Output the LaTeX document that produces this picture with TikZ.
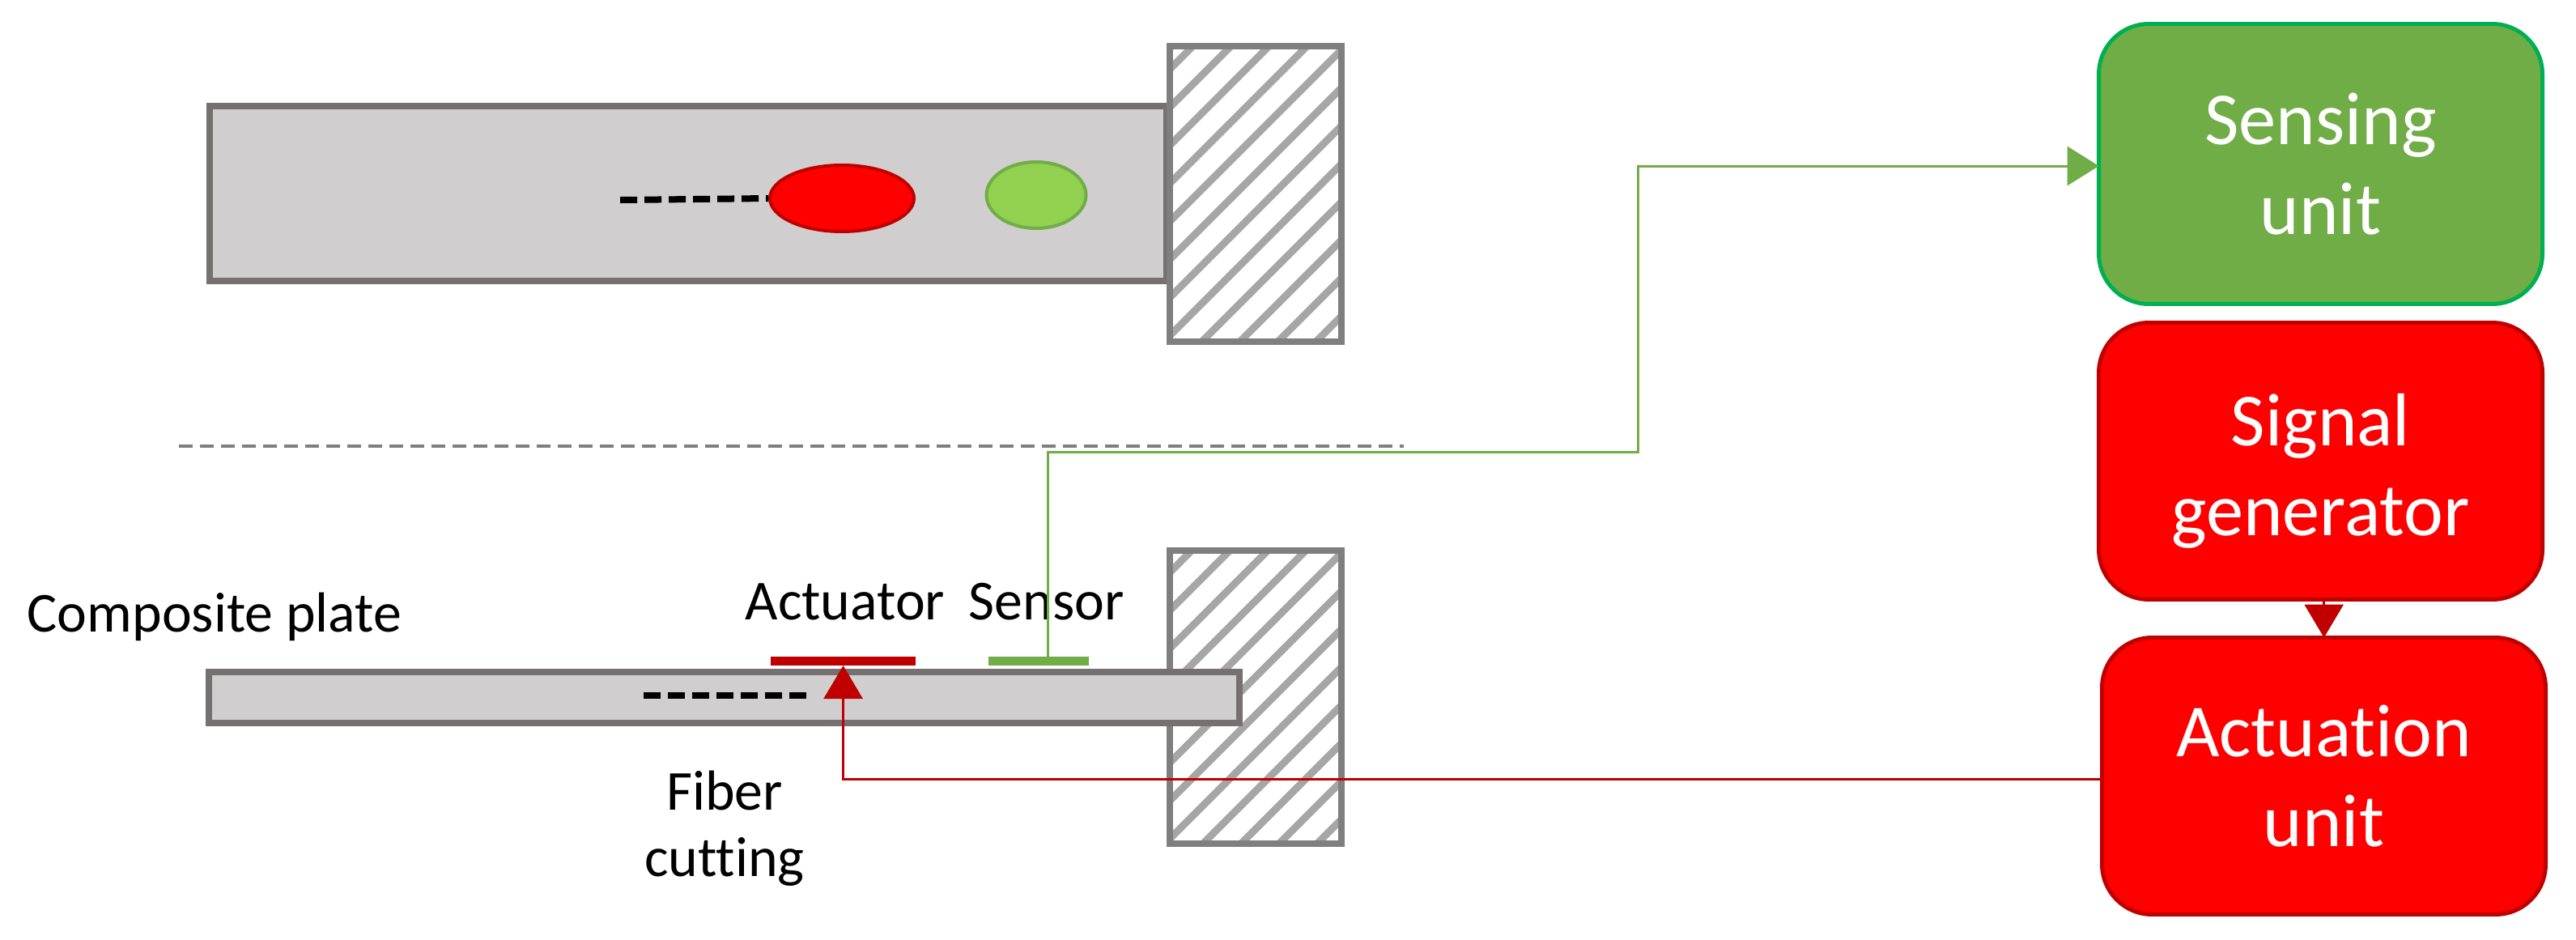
\documentclass[tikz,border=0pt]{standalone}
\usepackage{fontspec}
\setmainfont{Carlito}[Ligatures=NoCommon]
\usepackage{color}
\usepackage{tikz}
\usetikzlibrary{arrows.meta,shapes.geometric,calc}

\definecolor{platefill}{HTML}{D0CECE}
\definecolor{plateedge}{HTML}{767171}
\definecolor{wallgrey}{HTML}{7F7F7F}
\definecolor{hatchgrey}{HTML}{A6A6A6}
\definecolor{darkred}{HTML}{C00000}
\definecolor{sensegreen}{HTML}{70AD47}
\definecolor{lightgreen}{HTML}{92D050}
\definecolor{edgegreen}{HTML}{00B050}

\tikzset{
  plate/.style={draw=plateedge,fill=platefill,line width=0.075cm,rectangle,outer sep=0pt},
  wall/.style={draw=wallgrey,fill=white,line width=0.075cm,rectangle,outer sep=0pt,
    minimum width=2.12cm,path picture={
      \foreach \k in {-14,...,14}
        \draw [hatchgrey,line width=0.09cm] ($(path picture bounding box.center)+(\k*0.47+0.22-2.5,-2.5)$) -- ++(5,5);
    }},
  unitbox/.style={rectangle,rounded corners=0.62cm,line width=0.05cm,outer sep=0pt,
    minimum width=5.48cm,minimum height=3.42cm,text=white,align=center,
    font=\fontsize{26.3}{31.6}\selectfont},
  label/.style={font=\fontsize{19.85}{23.3}\selectfont,align=center},
  fibercut/.style={black,line width=0.08cm,dash pattern=on 0.21cm off 0.09cm},
  redlink/.style={darkred,line width=0.03cm,-{Triangle[length=0.41cm,width=0.48cm]}},
  greenlink/.style={sensegreen,line width=0.03cm,-{Triangle[length=0.39cm,width=0.48cm]}}
}

\begin{document}
\begin{tikzpicture}[scale=0.1]
\tikzstyle{every node}+=[inner sep=0pt]
\useasboundingbox (0,0) rectangle (318.2,-116.1);
% top view
\draw (85,-23.9) node (plateTop) [plate,minimum width=11.82cm,minimum height=2.165cm] {};
\draw (155.1,-23.95) node (wallTop) [wall,minimum height=3.65cm] {};
\draw (104,-24.5) node (redSpot) [ellipse,draw=darkred,fill=red,line width=0.04cm,minimum width=1.78cm,minimum height=0.82cm] {};
\draw (128,-24.1) node (greenSpot) [ellipse,draw=sensegreen,fill=lightgreen,line width=0.04cm,minimum width=1.23cm,minimum height=0.82cm] {};
\coordinate (cutTop) at (76.6,-24.7);
\draw [fibercut] (cutTop) -- (redSpot.west);
% separator
\coordinate (sepLeft) at (22.1,-55.1);
\coordinate (sepRight) at (173.4,-55.1);
\draw [wallgrey,line width=0.035cm,dash pattern=on 0.17cm off 0.09cm] (sepLeft) -- (sepRight);
% side view
\draw (155.1,-86.1) node (wallSide) [wall,minimum height=3.62cm] {};
\draw (89.45,-86.15) node (plateSide) [plate,minimum width=12.73cm,minimum height=0.63cm] {};
\draw (104.15,-81.65) node (actBar) [rectangle,fill=darkred,minimum width=1.79cm,minimum height=0.11cm,outer sep=0pt] {};
\draw (128.3,-81.65) node (senseBar) [rectangle,fill=sensegreen,minimum width=1.24cm,minimum height=0.11cm,outer sep=0pt] {};
\coordinate (cutStart) at (79.5,-85.9);
\coordinate (cutEnd) at (99.9,-85.9);
\draw [fibercut] (cutStart) -- (cutEnd);
\draw (3.3,-78) node (plateLabel) [label,anchor=base west] {Composite plate};
\draw (92,-76.5) node (actLabel) [label,anchor=base west] {Actuator};
\draw (119.6,-76.5) node (senseLabel) [label,anchor=base west] {Sensor};
\draw (89.5,-102.3) node (cutLabel) [label] {Fiber\\cutting};
% units
\draw (286.65,-20.25) node (sensing) [unitbox,draw=edgegreen,fill=sensegreen,minimum height=3.46cm] {Sensing\\unit};
\draw (286.65,-56.95) node (signal) [unitbox,draw=darkred,fill=red] {\rule{0pt}{0.88cm}Signal\\generator};
\draw (287.05,-95.85) node (actuation) [unitbox,draw=darkred,fill=red] {Actuation\\unit};
% links
\draw [greenlink] ([xshift=1.1cm]senseBar.north) |- (202.3,-55.9) |- ([yshift=-0.25cm]sensing.west);
\draw [redlink] ([yshift=-0.35cm]actuation.west) -| (actBar.south);
\draw [redlink] (signal.south -| actuation.north) -- (actuation.north);
\end{tikzpicture}
\end{document}
